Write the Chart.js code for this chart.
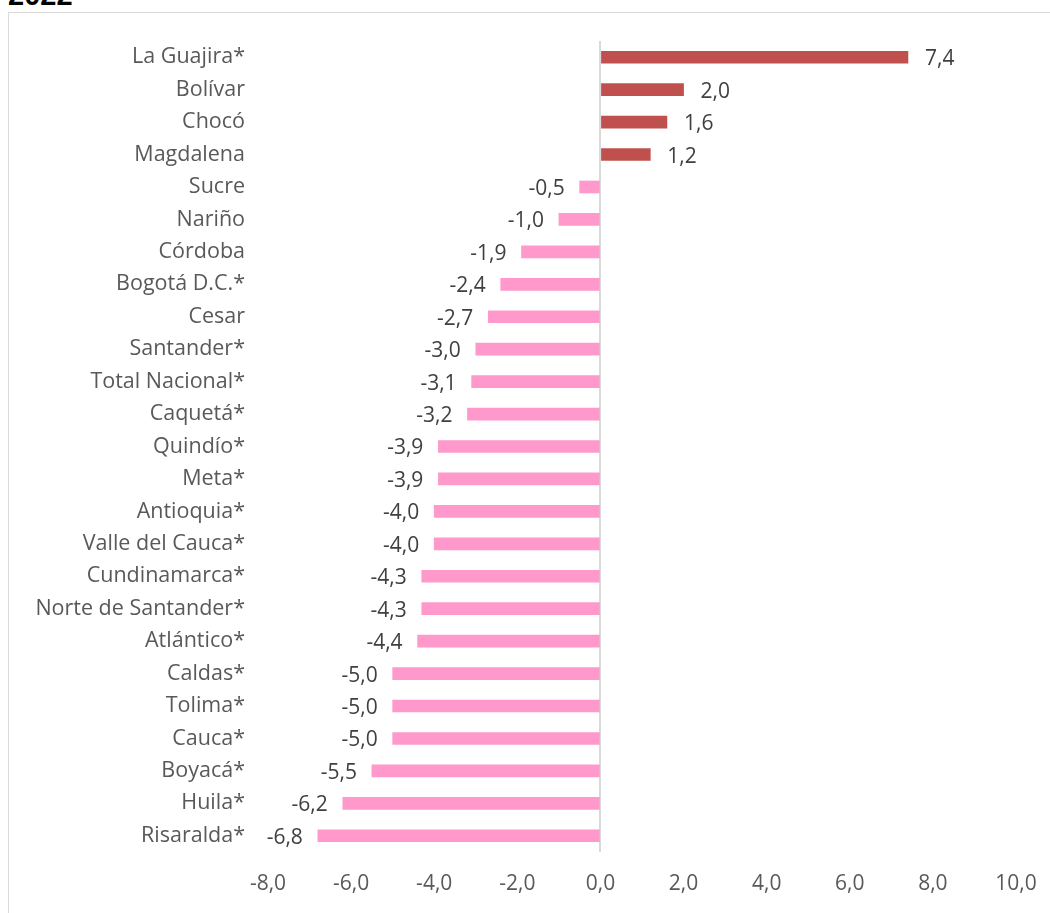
<!DOCTYPE html>
<html>
<head>
<meta charset="utf-8">
<script src="https://cdn.jsdelivr.net/npm/chart.js@4/dist/chart.umd.min.js"></script>
<style>
  html, body { margin: 0; padding: 0; background: #fff; overflow: hidden; }
  #wrap { position: relative; width: 1050px; height: 913px; }
  #frame { position: absolute; left: 8px; top: 12px; width: 1100px; height: 1000px; border: 1px solid #d9d9d9; box-sizing: border-box; }
  #year { position: absolute; left: 8px; top: -21px; font: bold 29px "Liberation Sans", Arial, sans-serif; color: #000; }
  canvas { position: absolute; left: 0; top: 0; }
</style>
</head>
<body>
<div id="wrap">
  <div id="year">2022</div>
  <div id="frame"></div>
  <canvas id="chart" width="1050" height="913"></canvas>
</div>
<script>
const departamentos = ['La Guajira*', 'Bolívar', 'Chocó', 'Magdalena', 'Sucre', 'Nariño', 'Córdoba',
  'Bogotá D.C.*', 'Cesar', 'Santander*', 'Total Nacional*', 'Caquetá*', 'Quindío*', 'Meta*',
  'Antioquia*', 'Valle del Cauca*', 'Cundinamarca*', 'Norte de Santander*', 'Atlántico*',
  'Caldas*', 'Tolima*', 'Cauca*', 'Boyacá*', 'Huila*', 'Risaralda*'];
const variacion = [7.4, 2.0, 1.6, 1.2, -0.5, -1.0, -1.9, -2.4, -2.7, -3.0, -3.1, -3.2, -3.9, -3.9,
  -4.0, -4.0, -4.3, -4.3, -4.4, -5.0, -5.0, -5.0, -5.5, -6.2, -6.8];
const xTicks = [-8, -6, -4, -2, 0, 2, 4, 6, 8, 10];

const fmt = v => v.toFixed(1).replace('.', ',');
const font = '"Open Sans", "Noto Sans", sans-serif';

// etiquetas al final de cada barra
const barLabels = {
  id: 'barLabels',
  afterDatasetsDraw(chart) {
    const c = chart.ctx;
    const meta = chart.getDatasetMeta(0);
    c.save();
    c.font = '21px ' + font;
    c.fillStyle = '#404040';
    c.textBaseline = 'middle';
    meta.data.forEach((bar, i) => {
      const v = variacion[i];
      if (v >= 0) {
        c.textAlign = 'left';
        c.fillText(fmt(v), bar.x + 17, bar.y + 2);
      } else {
        c.textAlign = 'right';
        c.fillText(fmt(v), bar.x - 15, bar.y + 2);
      }
    });
    c.restore();
  }
};

new Chart(document.getElementById('chart'), {
  type: 'bar',
  data: {
    labels: departamentos,
    datasets: [{
      data: variacion,
      backgroundColor: variacion.map(v => v >= 0 ? '#C0504D' : '#FF99CC'),
      barThickness: 12
    }]
  },
  options: {
    indexAxis: 'y',
    responsive: false,
    animation: false,
    layout: { padding: { top: 41, right: 34, left: 0, bottom: 0 } },
    plugins: { legend: { display: false }, tooltip: { enabled: false } },
    scales: {
      x: {
        min: -8, max: 10,
        afterBuildTicks: s => { s.ticks = xTicks.map(v => ({ value: v })); },
        afterFit: s => { s.height = 61; s.paddingLeft = 0; s.paddingRight = 0; },
        border: { display: false },
        grid: {
          drawTicks: false,
          color: c => c.tick && c.tick.value === 0 ? '#d9d9d9' : 'rgba(0,0,0,0)',
          lineWidth: 2
        },
        ticks: {
          padding: 19,
          color: '#595959',
          font: { family: font, size: 21 },
          callback: v => fmt(v)
        }
      },
      y: {
        afterFit: s => { s.width = 268; },
        border: { display: false },
        grid: { display: false, drawTicks: false },
        ticks: {
          padding: 23,
          color: '#595959',
          font: { family: font, size: 21.5 },
          autoSkip: false
        }
      }
    }
  },
  plugins: [barLabels]
});
</script>
</body>
</html>
